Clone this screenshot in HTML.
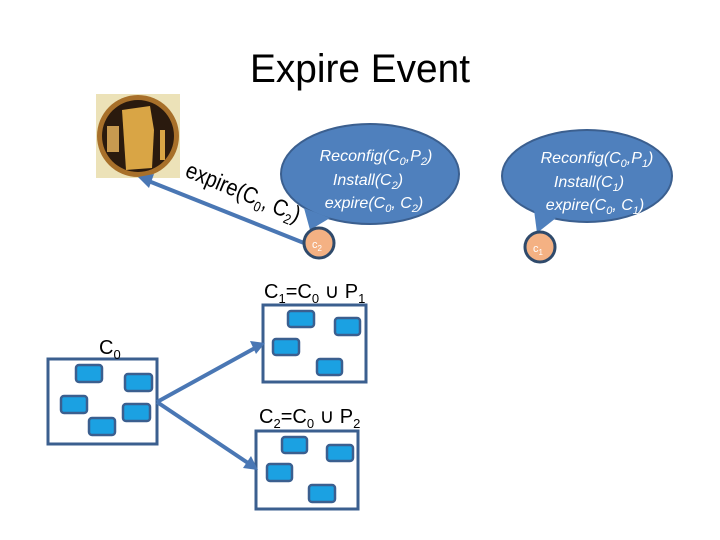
<!DOCTYPE html>
<html><head><style>
html,body{margin:0;padding:0;background:#fff;}
svg{display:block;}
text{font-family:"Liberation Sans",sans-serif;}
</style></head><body>
<svg width="720" height="540" viewBox="0 0 720 540" xmlns="http://www.w3.org/2000/svg">
<text x="250" y="82" font-size="40" textLength="220" lengthAdjust="spacingAndGlyphs" fill="#000">Expire Event</text>

<!-- image -->
<rect x="96" y="94" width="84" height="84" fill="#ece2b8"/>
<circle cx="138" cy="136" r="41" fill="#a8702a"/>
<circle cx="138" cy="136" r="36" fill="#2a1a0e"/>
<path d="M122,110 L150,106 L154,130 L152,168 L126,170 L124,140 Z" fill="#d9a545"/>
<rect x="107" y="126" width="12" height="26" fill="#c89a50"/>
<rect x="160" y="130" width="5" height="30" fill="#d9a545"/>

<!-- arrow to image -->
<line x1="304" y1="243" x2="146" y2="180" stroke="#4a77b4" stroke-width="4"/>
<path d="M138,177 L154,174 L149,188 Z" fill="#4a77b4"/>
<text x="184" y="176" font-size="23" transform="rotate(22.5 184 176)" fill="#000" textLength="122" lengthAdjust="spacingAndGlyphs">expire(C<tspan font-size="14" dy="5">0</tspan><tspan dy="-5">, C</tspan><tspan font-size="14" dy="5">2</tspan><tspan dy="-5">)</tspan></text>

<!-- bubble 1 -->
<ellipse cx="370" cy="174" rx="89" ry="50" fill="#4f80bd" stroke="#3b5f8f" stroke-width="2"/>
<path d="M304,208 L310,230 L330,218 Z" fill="#4f80bd"/>
<g font-size="16" font-style="italic" fill="#fff" text-anchor="middle">
<text x="376" y="161">Reconfig(C<tspan font-size="11" dy="4">0</tspan><tspan dy="-4">,P</tspan><tspan font-size="11" dy="4">2</tspan><tspan dy="-4">)</tspan></text>
<text x="368" y="185">Install(C<tspan font-size="11" dy="4">2</tspan><tspan dy="-4">)</tspan></text>
<text x="374" y="208">expire(C<tspan font-size="11" dy="4">0</tspan><tspan dy="-4">, C</tspan><tspan font-size="11" dy="4">2</tspan><tspan dy="-4">)</tspan></text>
</g>
<circle cx="319" cy="243" r="15" fill="#f4b183" stroke="#2f4a6b" stroke-width="3"/>
<text x="317" y="248" font-size="11" fill="#fff" text-anchor="middle">c<tspan font-size="8" dy="3">2</tspan></text>

<!-- bubble 2 -->
<ellipse cx="587" cy="176" rx="85" ry="46" fill="#4f80bd" stroke="#3b5f8f" stroke-width="2"/>
<path d="M534,210 L537,233 L556,218 Z" fill="#4f80bd"/>
<g font-size="16" font-style="italic" fill="#fff" text-anchor="middle">
<text x="597" y="163">Reconfig(C<tspan font-size="11" dy="4">0</tspan><tspan dy="-4">,P</tspan><tspan font-size="11" dy="4">1</tspan><tspan dy="-4">)</tspan></text>
<text x="589" y="187">Install(C<tspan font-size="11" dy="4">1</tspan><tspan dy="-4">)</tspan></text>
<text x="595" y="210">expire(C<tspan font-size="11" dy="4">0</tspan><tspan dy="-4">, C</tspan><tspan font-size="11" dy="4">1</tspan><tspan dy="-4">)</tspan></text>
</g>
<circle cx="540" cy="247" r="15" fill="#f4b183" stroke="#2f4a6b" stroke-width="3"/>
<text x="538" y="252" font-size="11" fill="#fff" text-anchor="middle">c<tspan font-size="8" dy="3">1</tspan></text>

<!-- boxes -->
<g fill="#fff" stroke="#3b5f8f" stroke-width="3">
<rect x="48" y="359" width="109" height="85"/>
<rect x="263" y="305" width="103" height="77"/>
<rect x="256" y="431" width="102" height="78"/>
</g>
<g fill="#1ba1e2" stroke="#3b5f8f" stroke-width="2.5">
<rect x="76" y="365" width="26" height="17" rx="3"/>
<rect x="125" y="374" width="27" height="17" rx="3"/>
<rect x="61" y="396" width="26" height="17" rx="3"/>
<rect x="123" y="404" width="27" height="17" rx="3"/>
<rect x="89" y="418" width="26" height="17" rx="3"/>
<rect x="288" y="311" width="26" height="16" rx="3"/>
<rect x="335" y="318" width="25" height="17" rx="3"/>
<rect x="273" y="339" width="26" height="16" rx="3"/>
<rect x="317" y="359" width="25" height="16" rx="3"/>
<rect x="282" y="437" width="25" height="16" rx="3"/>
<rect x="327" y="445" width="26" height="16" rx="3"/>
<rect x="267" y="464" width="25" height="17" rx="3"/>
<rect x="309" y="485" width="26" height="17" rx="3"/>
</g>

<!-- arrows from C0 -->
<g stroke="#4a77b4" stroke-width="4">
<line x1="157" y1="402" x2="255" y2="348"/>
<line x1="157" y1="402" x2="248" y2="463"/>
</g>
<path d="M265,343 L250,341 L256,354 Z" fill="#4a77b4"/>
<path d="M258,470 L243,468 L251,456 Z" fill="#4a77b4"/>

<g font-size="20" fill="#000">
<text x="99" y="354">C<tspan font-size="13" dy="5">0</tspan></text>
<text x="264" y="298">C<tspan font-size="13" dy="5">1</tspan><tspan dy="-5">=C</tspan><tspan font-size="13" dy="5">0</tspan><tspan dy="-5"> ∪ P</tspan><tspan font-size="13" dy="5">1</tspan></text>
<text x="259" y="423">C<tspan font-size="13" dy="5">2</tspan><tspan dy="-5">=C</tspan><tspan font-size="13" dy="5">0</tspan><tspan dy="-5"> ∪ P</tspan><tspan font-size="13" dy="5">2</tspan></text>
</g>
</svg>
</body></html>
